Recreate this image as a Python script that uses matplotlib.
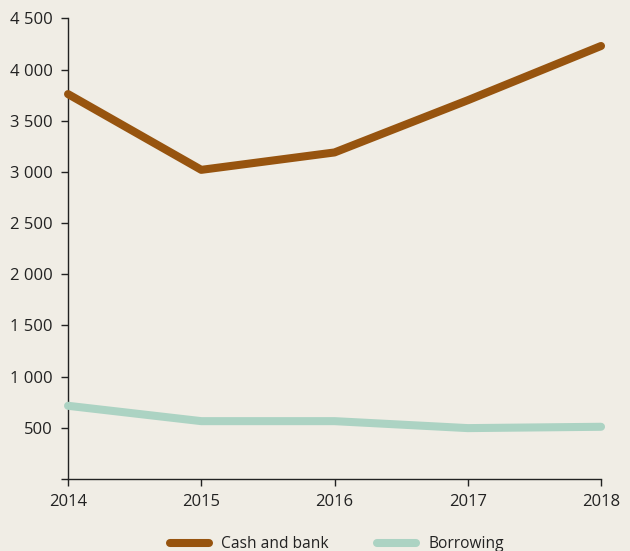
import matplotlib
matplotlib.use("Agg")
import matplotlib.pyplot as plt
from matplotlib.ticker import FuncFormatter, MultipleLocator

years = [2014, 2015, 2016, 2017, 2018]
cash_and_bank = [3760, 3020, 3190, 3700, 4230]
borrowing = [715, 565, 565, 497, 510]
series_labels = ["Cash and bank", "Borrowing"]

bg = "#f0ede5"
brown = "#97540f"
teal = "#acd3c3"
txt = "#222222"

plt.rcParams['font.family'] = ['Open Sans', 'DejaVu Sans']

fig = plt.figure(figsize=(6.3, 5.51), dpi=100, facecolor=bg)
ax = fig.add_axes([0.108, 0.1307, 0.846, 0.836], facecolor=bg)

ax.plot(years, cash_and_bank, color=brown, lw=5.8, solid_capstyle='round',
        solid_joinstyle='round', label=series_labels[0], clip_on=False, zorder=3)
ax.plot(years, borrowing, color=teal, lw=5.8, solid_capstyle='round',
        solid_joinstyle='round', label=series_labels[1], clip_on=False, zorder=3)

ax.set_xlim(2014, 2018)
ax.set_ylim(0, 4500)
ax.set_xticks(years)
ax.yaxis.set_major_locator(MultipleLocator(500))

def fmt(v, pos):
    if v == 0:
        return ""
    return f"{int(v):,}".replace(",", " ")

ax.yaxis.set_major_formatter(FuncFormatter(fmt))
for s in ["top", "right"]:
    ax.spines[s].set_visible(False)
for s in ["left", "bottom"]:
    ax.spines[s].set_color(txt)
    ax.spines[s].set_linewidth(1.0)
ax.tick_params(axis='both', colors=txt, labelcolor=txt, labelsize=12,
               length=5, width=1, direction='out')
ax.tick_params(axis='y', pad=6)
ax.tick_params(axis='x', pad=6)
ax.spines['left'].set_bounds(0, 4500)

leg = fig.legend(loc='center', bbox_to_anchor=(0.535, 0.012), ncol=2,
                 frameon=False, fontsize=11.2, handlelength=2.5,
                 columnspacing=3.1, handletextpad=0.8)
for t in leg.get_texts():
    t.set_color(txt)

fig.savefig("out.png", dpi=100, facecolor=bg)
